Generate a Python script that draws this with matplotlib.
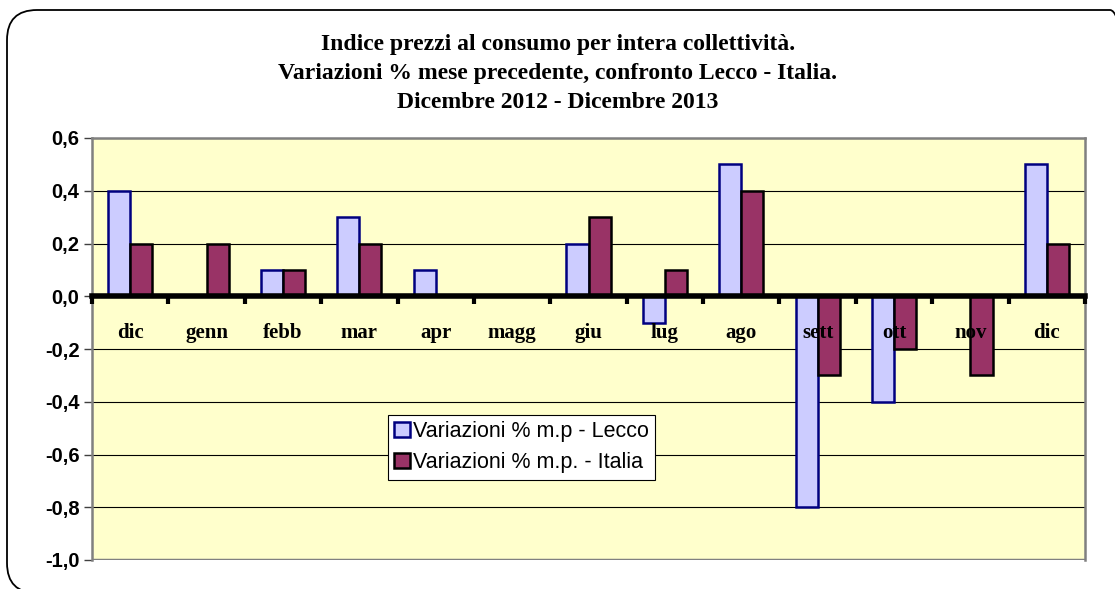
import matplotlib
matplotlib.use("Agg")
import matplotlib.pyplot as plt
import numpy as np
from matplotlib.patches import FancyBboxPatch

categories = ["dic", "genn", "febb", "mar", "apr", "magg", "giu", "lug", "ago", "sett", "ott", "nov", "dic"]
lecco = [0.4, 0.0, 0.1, 0.3, 0.1, 0.0, 0.2, -0.1, 0.5, -0.8, -0.4, 0.0, 0.5]
italia = [0.2, 0.2, 0.1, 0.2, 0.0, 0.0, 0.3, 0.1, 0.4, -0.3, -0.2, -0.3, 0.2]
yticks = [0.6, 0.4, 0.2, 0.0, -0.2, -0.4, -0.6, -0.8, -1.0]
title = ("Indice prezzi al consumo per intera collettività.\n"
         "Variazioni % mese precedente, confronto Lecco - Italia.\n"
         "Dicembre 2012 - Dicembre 2013")
label_lecco = "Variazioni % m.p - Lecco"
label_italia = "Variazioni % m.p. - Italia"

W, H = 1115, 589
fig = plt.figure(figsize=(W / 100, H / 100), dpi=100)
fig.patch.set_facecolor("white")

# rounded outer border (figure coords, circular corners)
r_px = 30
border = FancyBboxPatch((7 / W, -4 / H), (1140 - 7) / W, (579 + 4) / H,
                        boxstyle=f"round,pad=0,rounding_size={r_px / W}",
                        mutation_aspect=W / H,
                        transform=fig.transFigure, facecolor="none",
                        edgecolor="black", linewidth=1.3)
fig.add_artist(border)

ax = fig.add_axes([92 / W, 29 / H, (1085 - 92) / W, (560 - 138) / H])
ax.set_facecolor("#FFFFCC")

n = len(categories)
x = np.arange(n) + 0.5
w = 0.29
ax.bar(x - w / 2, lecco, width=w, color="#CCCCFF", edgecolor="#000080", linewidth=1.8,
       label=label_lecco, zorder=2)
ax.bar(x + w / 2, italia, width=w, color="#993366", edgecolor="black", linewidth=1.8,
       label=label_italia, zorder=2)

ax.set_xlim(0, n)
ax.set_ylim(-1.0, 0.6)
ax.set_yticks(yticks)
ax.set_yticklabels([f"{v:.1f}".replace(".", ",") for v in yticks],
                   fontfamily="Liberation Sans", fontweight="bold", fontsize=14.5)
ax.tick_params(axis="y", direction="out", length=6, width=1, pad=3, color="#404040")
ax.grid(axis="y", color="black", linewidth=0.8, zorder=1)

for s in ["top", "right", "left"]:
    ax.spines[s].set_color("#808080")
    ax.spines[s].set_linewidth(1.8)
ax.spines["bottom"].set_position(("data", 0))
ax.spines["bottom"].set_color("black")
ax.spines["bottom"].set_linewidth(4)
# bottom frame line of plot area
ax.axhline(-1.0, color="#808080", linewidth=2.5, zorder=2)

ax.set_xticks(x)
ax.set_xticklabels(categories, fontfamily="Liberation Serif", fontweight="bold", fontsize=15)
ax.tick_params(axis="x", which="major", length=0, pad=19)
ax.set_xticks(np.arange(n + 1), minor=True)
ax.tick_params(axis="x", which="minor", direction="out", length=6, width=3, color="black")
ax.xaxis.set_zorder(5)
ax.spines["bottom"].set_zorder(5)

fig.text(558 / W, 1 - 73.5 / H, title, ha="center", va="center",
         fontfamily="Liberation Serif", fontweight="bold", fontsize=17, linespacing=1.5)

leg = ax.legend(loc="upper left", bbox_to_anchor=((388 - 92) / 993, (560 - 415) / 422),
                prop={"family": "Liberation Sans", "size": 15.5},
                frameon=True, fancybox=False, edgecolor="black", framealpha=1,
                handlelength=0.7, handleheight=0.7, handletextpad=0.15, borderpad=0.3,
                labelspacing=0.45, borderaxespad=0)
leg.get_frame().set_linewidth(0.8)
leg.set_zorder(6)

fig.savefig("out.png", dpi=100)
